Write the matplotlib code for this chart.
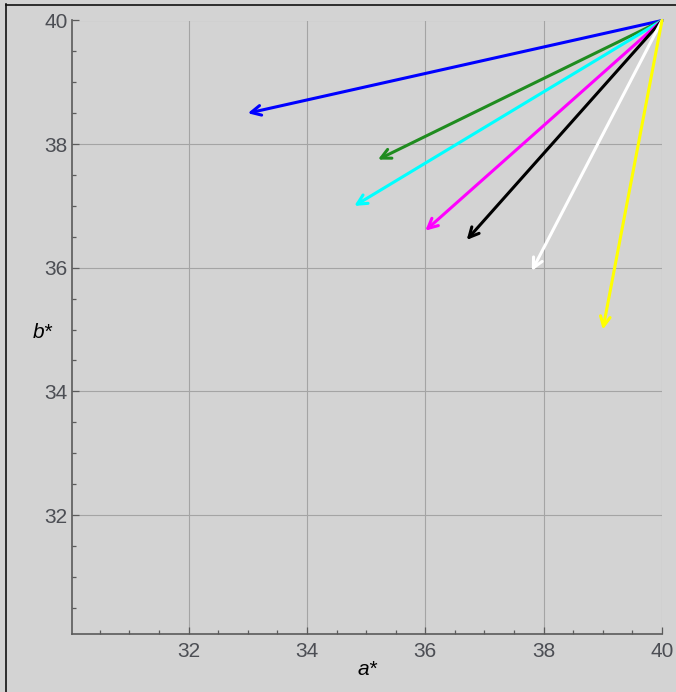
import matplotlib
matplotlib.use("Agg")
import matplotlib.pyplot as plt
from matplotlib.lines import Line2D
from matplotlib.ticker import MultipleLocator

# Shift vectors in the a*b* plane, all starting at the same reference colour
a_start = 40.0
b_start = 40.0
a_end = [33.0, 35.2, 34.8, 36.0, 36.7, 37.8, 39.0]
b_end = [38.5, 37.75, 37.0, 36.6, 36.45, 35.95, 35.0]
arrow_colors = ["#0000ff", "#1f8c1f", "#00ffff", "#ff00ff", "#000000", "#ffffff", "#ffff00"]

major_ticks = [32, 34, 36, 38, 40]
tick_labels = ["32", "34", "36", "38", "40"]

bg = "#d3d3d3"
W, H = 676, 692
fig = plt.figure(figsize=(W / 100, H / 100), dpi=100, facecolor=bg)
ax = fig.add_axes([72 / W, 1 - 634 / H, (662 - 72) / W, (634 - 20.5) / H])
ax.set_facecolor(bg)

ax.set_xlim(30.03, 40.0)
ax.set_ylim(30.075, 40.0)

ax.grid(True, which="major", color="#a4a4a4", linewidth=0.8, zorder=0)
ax.set_axisbelow(True)

for side in ("top", "right"):
    ax.spines[side].set_visible(False)
for side in ("left", "bottom"):
    ax.spines[side].set_color("#5a5a5a")
    ax.spines[side].set_linewidth(1.2)

ax.set_xticks(major_ticks)
ax.set_xticklabels(tick_labels)
ax.set_yticks(major_ticks)
ax.set_yticklabels(tick_labels)
ax.xaxis.set_minor_locator(MultipleLocator(0.5))
ax.yaxis.set_minor_locator(MultipleLocator(0.5))

ax.tick_params(axis="both", which="major", direction="in", length=5, width=0.9,
               color="#5a5a5a", labelsize=15, labelcolor="#4c4e54")
ax.tick_params(axis="both", which="minor", direction="in", length=3, width=0.9,
               color="#5a5a5a")
ax.tick_params(axis="x", which="major", pad=6)
ax.tick_params(axis="y", which="major", pad=3)
for lab in ax.get_xticklabels() + ax.get_yticklabels():
    lab.set_fontfamily("Liberation Sans")

for ae, be, c in zip(a_end, b_end, arrow_colors):
    ax.annotate("", xy=(ae, be), xytext=(a_start, b_start),
                arrowprops=dict(arrowstyle="->,head_length=0.7,head_width=0.35",
                                color=c, lw=2.2, shrinkA=0, shrinkB=0),
                annotation_clip=False, zorder=3)

fig.text(367 / W, 1 - 675 / H, "a*", fontsize=15, style="italic",
         family="Liberation Sans", ha="center", va="baseline", color="black")
fig.text(43 / W, 1 - 338 / H, "b*", fontsize=15, style="italic",
         family="Liberation Sans", ha="center", va="baseline", color="black")

# thin dark edge along the left and top of the canvas
fig.add_artist(Line2D([5.5 / W, 5.5 / W], [0, 1 - 4 / H], transform=fig.transFigure,
                      color="#111111", linewidth=1.2))
fig.add_artist(Line2D([5.5 / W, 1], [1 - 4.5 / H, 1 - 4.5 / H], transform=fig.transFigure,
                      color="#111111", linewidth=1.2))

fig.savefig("out.png", dpi=100, facecolor=bg)
